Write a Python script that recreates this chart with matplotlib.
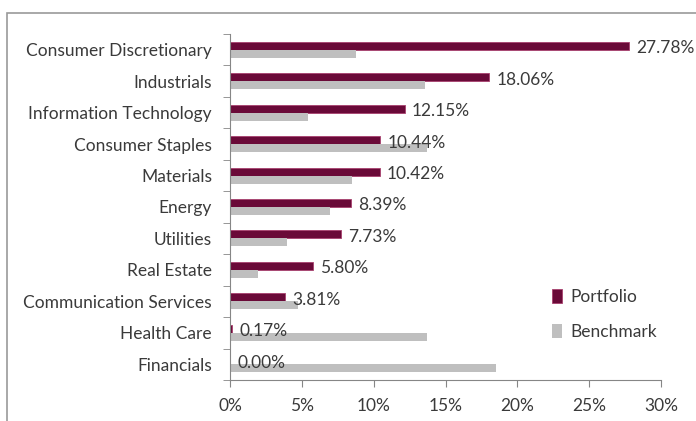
import numpy as np
import matplotlib
matplotlib.use("Agg")
import matplotlib.pyplot as plt
from matplotlib.patches import Rectangle
from matplotlib.ticker import FixedLocator, PercentFormatter

## Data
sectors = ["Consumer Discretionary", "Industrials", "Information Technology",
           "Consumer Staples", "Materials", "Energy", "Utilities", "Real Estate",
           "Communication Services", "Health Care", "Financials"]
portfolio = [27.78, 18.06, 12.15, 10.44, 10.42, 8.39, 7.73, 5.80, 3.81, 0.17, 0.00]
benchmark = [8.77, 13.57, 5.45, 13.69, 8.47, 6.96, 3.99, 1.97, 4.76, 13.69, 18.49]
xticks = [0, 5, 10, 15, 20, 25, 30]

maroon = "#6a0a38"
grey = "#bfbfbf"
txt = "#3a3a3a"
fs = 12.5
plt.rcParams["font.family"] = ["Lato", "DejaVu Sans"]

fig = plt.figure(figsize=(6.96, 4.21), dpi=100)
ax = fig.add_axes([230/696, 41/421, 431/696, 346/421])

## outer frame of the original chart box
fig.patches.append(Rectangle((7/696, -0.1), 1.0, (421-13)/421 + 0.1,
                             transform=fig.transFigure, fill=False,
                             edgecolor="#9a9a9a", lw=1.2, zorder=0))
fig.text(0.47, 1.012, "Sector Allocation", ha="center", va="center",
         fontsize=11, fontweight="bold", color=maroon)

y = np.arange(len(sectors))
h = 0.255
ax.barh(y - h/2, portfolio, height=h, color=maroon, edgecolor="#a8406e",
        lw=0.6, label="Portfolio")
ax.barh(y + h/2, benchmark, height=h, color=grey, lw=0, label="Benchmark")

for yi, v in zip(y, portfolio):
    ax.text(v + 0.5, yi - 0.05, "%.2f%%" % v, ha="left", va="center",
            fontsize=fs, color=txt)

## axes
ax.set_xlim(0, 30)
ax.set_ylim(len(sectors) - 0.5, -0.5)
ax.set_yticks(y)
ax.set_yticklabels(sectors, fontsize=fs, color=txt)
ax.yaxis.set_minor_locator(FixedLocator(np.arange(-0.5, len(sectors), 1.0)))
ax.tick_params(axis="y", which="major", length=0, pad=13)
ax.tick_params(axis="y", which="minor", length=5, color="#868686", direction="out")
ax.set_xticks(xticks)
ax.xaxis.set_major_formatter(PercentFormatter(decimals=0))
ax.tick_params(axis="x", length=5, color="#868686", pad=8, labelsize=fs,
               labelcolor=txt)
for s in ["top", "right"]:
    ax.spines[s].set_visible(False)
for s in ["left", "bottom"]:
    ax.spines[s].set_color("#868686")

ax.legend(loc="lower left", bbox_to_anchor=(0.71, 0.07), frameon=False,
          fontsize=fs, labelcolor=txt, handlelength=0.6, handleheight=0.8,
          handletextpad=0.5, labelspacing=1.1)

fig.savefig("out.png", dpi=100)
